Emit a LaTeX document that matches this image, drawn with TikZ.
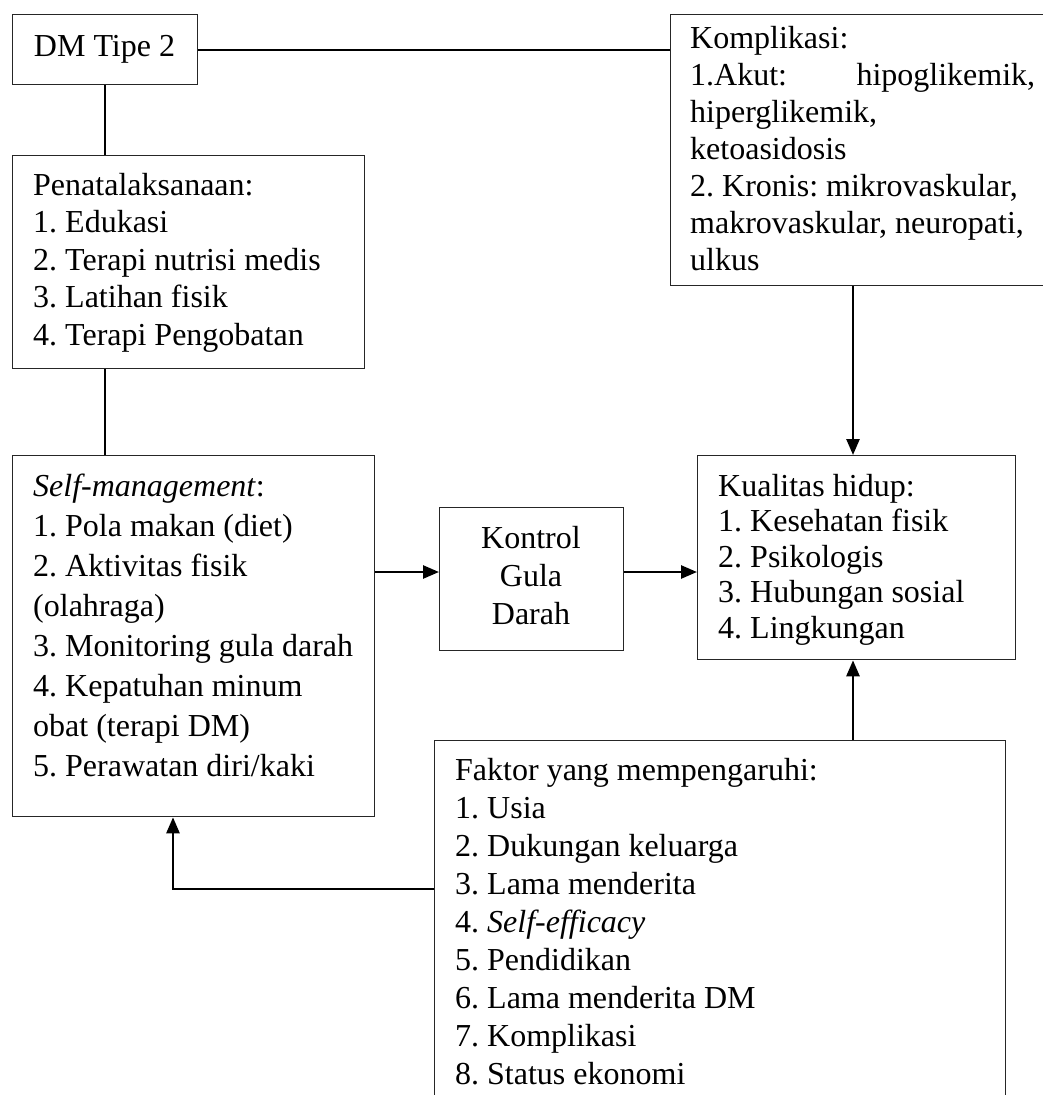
\documentclass[tikz,border=0pt]{standalone}
\usepackage{fontspec}
\setmainfont{Liberation Serif}
\usetikzlibrary{arrows.meta}
\frenchspacing
\newcommand{\tlines}[2]{\fontsize{32}{#1}\selectfont\frenchspacing\begin{tabular}[t]{@{}l@{}}#2\end{tabular}}
\newcommand{\clines}[2]{\fontsize{32}{#1}\selectfont\frenchspacing\begin{tabular}[t]{@{}c@{}}#2\end{tabular}}
\begin{document}
\begin{tikzpicture}[x=1pt,y=-1pt,
  box/.style={draw=black!85,line width=1.3pt,inner sep=0pt,anchor=north west},
  txt/.style={inner sep=0pt,anchor=base west},
  conn/.style={line width=1.8pt},
  arr/.style={line width=2.6pt,-{Triangle[length=16pt,width=13pt]}}]
\useasboundingbox[fill=white] (0,0) rectangle (1043,1095);

% boxes
\node[box,minimum width=185,minimum height=70] (dm) at (12,14) {};
\node[box,minimum width=380,minimum height=271] (komp) at (670,14) {};
\node[box,minimum width=352,minimum height=213] (pen) at (12,155) {};
\node[box,minimum width=362,minimum height=361] (sm) at (12,455) {};
\node[box,minimum width=184,minimum height=143] (kon) at (439,507) {};
\node[box,minimum width=318,minimum height=204] (kual) at (697,455) {};
\node[box,minimum width=571,minimum height=380] (fak) at (434,740) {};

% texts
\node[txt,anchor=base] (tdm) at (104.5,56) {\fontsize{32}{37}\selectfont DM Tipe 2};
\node[txt] (tkomp) at (690,48) {\tlines{37}{Komplikasi:\\
  \hbox to 345pt{1.Akut:\hfill hipoglikemik,}\\
  hiperglikemik,\\
  ketoasidosis\\
  2. Kronis: mikrovaskular,\\
  makrovaskular, neuropati,\\
  ulkus}};
\node[txt] (tpen) at (33,195) {\tlines{37.5}{Penatalaksanaan:\\
  1. Edukasi\\
  2. Terapi nutrisi medis\\
  3. Latihan fisik\\
  4. Terapi Pengobatan}};
\node[txt] (tsm) at (33,496) {\tlines{40}{\textit{Self-management}:\\
  1. Pola makan (diet)\\
  2. Aktivitas fisik\\
  (olahraga)\\
  3. Monitoring gula darah\\
  4. Kepatuhan minum\\
  obat (terapi DM)\\
  5. Perawatan diri/kaki}};
\node[txt,anchor=base] (tkon) at (531,548) {\clines{38}{Kontrol\\Gula\\Darah}};
\node[txt] (tkual) at (718,496) {\tlines{35.5}{Kualitas hidup:\\
  1. Kesehatan fisik\\
  2. Psikologis\\
  3. Hubungan sosial\\
  4. Lingkungan}};
\node[txt] (tfak) at (455,780) {\tlines{38}{Faktor yang mempengaruhi:\\
  1. Usia\\
  2. Dukungan keluarga\\
  3. Lama menderita\\
  4. \textit{Self-efficacy}\\
  5. Pendidikan\\
  6. Lama menderita DM\\
  7. Komplikasi\\
  8. Status ekonomi}};

% helper coordinates
\coordinate (r1) at (0,572);
\coordinate (r2) at (0,889);
\coordinate (c1) at (853,0);
\coordinate (c2) at (173,0);

% connectors
\draw[conn] (dm.east) -- (komp.west |- dm.east);
\draw[conn] (dm.south) -- (pen.north -| dm.south);
\draw[conn] (pen.south -| dm.south) -- (sm.north -| dm.south);
\draw[arr] (sm.east |- r1) -- (kon.west |- r1);
\draw[arr] (kon.east |- r1) -- (kual.west |- r1);
\draw[arr] (komp.south -| c1) -- (kual.north -| c1);
\draw[arr] (fak.north -| c1) -- (kual.south -| c1);
\draw[arr] (fak.west |- r2) -| (sm.south -| c2);
\end{tikzpicture}
\end{document}
